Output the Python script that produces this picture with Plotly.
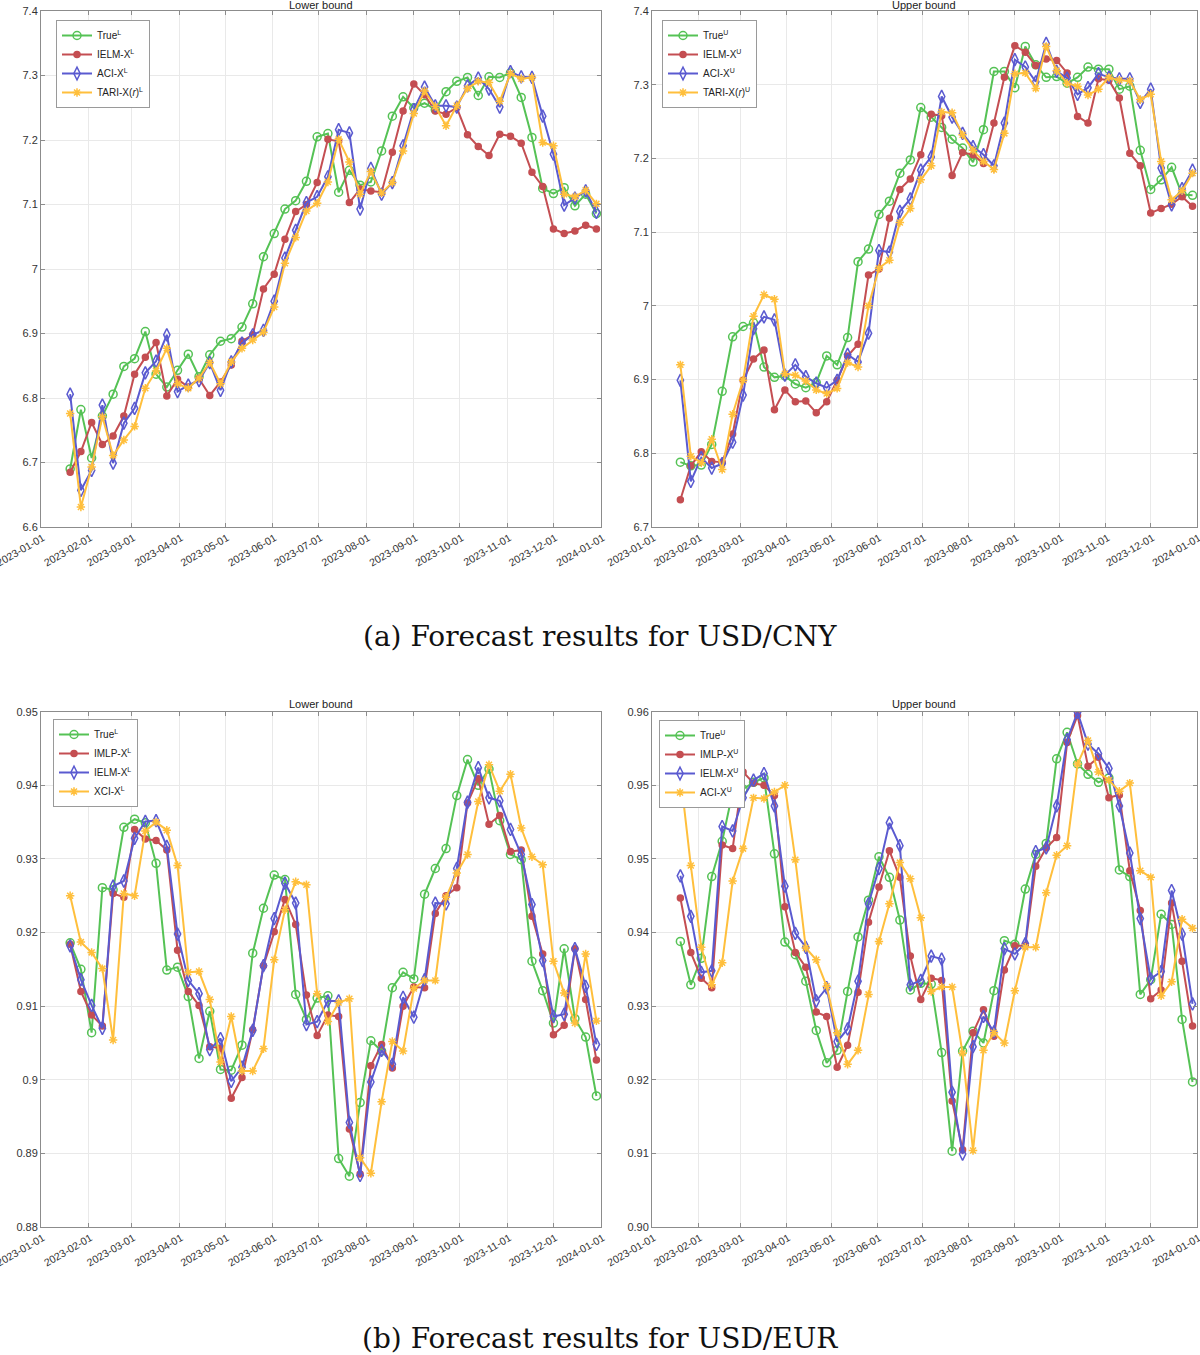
import pandas as pd
import plotly.graph_objects as go

# weekly points, 2023-01-20 .. 2023-12-29
dates = pd.date_range('2023-01-20', periods=50, freq='7D')

month_ticks = pd.date_range('2023-01-01', '2024-01-01', freq='MS')
month_labels = [d.strftime('%Y-%m-%d') for d in month_ticks]

# USD/CNY lower bound
cny_true_l = [6.690, 6.782, 6.707, 6.772, 6.806, 6.849, 6.861, 6.903, 6.837, 6.817,
              6.843, 6.868, 6.833, 6.867, 6.888, 6.892, 6.910, 6.946, 7.019, 7.055,
              7.093, 7.106, 7.136, 7.205, 7.210, 7.119, 7.153, 7.130, 7.135, 7.183,
              7.237, 7.267, 7.250, 7.257, 7.247, 7.275, 7.291, 7.297, 7.269, 7.298,
              7.297, 7.304, 7.266, 7.204, 7.125, 7.117, 7.126, 7.098, 7.116, 7.086]
cny_ielm_l = [6.685, 6.717, 6.762, 6.728, 6.741, 6.772, 6.837, 6.863, 6.886, 6.803,
              6.829, 6.817, 6.830, 6.804, 6.825, 6.851, 6.888, 6.898, 6.969, 6.992,
              7.046, 7.089, 7.100, 7.134, 7.201, 7.198, 7.103, 7.124, 7.121, 7.119,
              7.181, 7.245, 7.287, 7.270, 7.245, 7.240, 7.250, 7.208, 7.190, 7.176,
              7.209, 7.206, 7.195, 7.150, 7.128, 7.062, 7.055, 7.059, 7.068, 7.062]
cny_aci_l = [6.806, 6.657, 6.688, 6.789, 6.699, 6.761, 6.784, 6.839, 6.857, 6.898,
             6.810, 6.820, 6.827, 6.855, 6.812, 6.856, 6.885, 6.898, 6.905, 6.950,
             7.017, 7.060, 7.103, 7.112, 7.143, 7.216, 7.211, 7.093, 7.156, 7.116,
             7.134, 7.191, 7.247, 7.282, 7.253, 7.253, 7.251, 7.284, 7.296, 7.279,
             7.251, 7.306, 7.298, 7.297, 7.237, 7.178, 7.099, 7.110, 7.121, 7.088]
cny_tari_l = [6.776, 6.631, 6.693, 6.771, 6.711, 6.735, 6.756, 6.815, 6.842, 6.877,
              6.822, 6.815, 6.831, 6.855, 6.822, 6.856, 6.877, 6.890, 6.902, 6.941,
              7.009, 7.049, 7.090, 7.102, 7.135, 7.201, 7.166, 7.116, 7.151, 7.118,
              7.134, 7.183, 7.241, 7.276, 7.252, 7.222, 7.253, 7.280, 7.291, 7.289,
              7.260, 7.303, 7.295, 7.297, 7.196, 7.191, 7.116, 7.112, 7.122, 7.101]

# USD/CNY upper bound
cny_true_u = [6.788, 6.783, 6.784, 6.812, 6.884, 6.958, 6.972, 6.977, 6.917, 6.903,
              6.905, 6.894, 6.889, 6.896, 6.932, 6.920, 6.957, 7.060, 7.077, 7.124,
              7.142, 7.180, 7.198, 7.269, 7.256, 7.242, 7.226, 7.214, 7.195, 7.239,
              7.318, 7.318, 7.296, 7.352, 7.327, 7.310, 7.311, 7.302, 7.310, 7.324,
              7.321, 7.321, 7.294, 7.298, 7.211, 7.158, 7.171, 7.188, 7.151, 7.150]
cny_ielm_u = [6.737, 6.783, 6.802, 6.789, 6.788, 6.826, 6.899, 6.928, 6.940, 6.859,
              6.886, 6.870, 6.871, 6.855, 6.870, 6.899, 6.932, 6.948, 7.042, 7.050,
              7.119, 7.158, 7.172, 7.205, 7.260, 7.258, 7.177, 7.208, 7.205, 7.193,
              7.248, 7.310, 7.353, 7.344, 7.326, 7.335, 7.333, 7.316, 7.257, 7.248,
              7.308, 7.306, 7.282, 7.207, 7.190, 7.126, 7.132, 7.138, 7.148, 7.135]
cny_aci_u = [6.899, 6.762, 6.794, 6.780, 6.786, 6.815, 6.879, 6.969, 6.985, 6.981,
             6.906, 6.920, 6.904, 6.895, 6.889, 6.899, 6.934, 6.924, 6.963, 7.075,
             7.073, 7.128, 7.145, 7.184, 7.202, 7.284, 7.256, 7.234, 7.216, 7.205,
             7.190, 7.248, 7.334, 7.324, 7.304, 7.356, 7.318, 7.309, 7.287, 7.296,
             7.315, 7.310, 7.308, 7.308, 7.276, 7.294, 7.187, 7.137, 7.159, 7.184]
cny_tari_u = [6.920, 6.796, 6.787, 6.819, 6.778, 6.853, 6.899, 6.986, 7.015, 7.009,
              6.908, 6.906, 6.898, 6.886, 6.881, 6.888, 6.923, 6.917, 7.000, 7.051,
              7.062, 7.113, 7.132, 7.171, 7.190, 7.263, 7.262, 7.232, 7.211, 7.196,
              7.185, 7.234, 7.315, 7.316, 7.295, 7.352, 7.319, 7.302, 7.298, 7.286,
              7.294, 7.310, 7.306, 7.305, 7.280, 7.287, 7.196, 7.144, 7.156, 7.180]

# USD/EUR lower bound
eur_true_l = [0.9186, 0.9150, 0.9064, 0.9261, 0.9258, 0.9343, 0.9354, 0.9349, 0.9294, 0.9149,
              0.9153, 0.9113, 0.9029, 0.9093, 0.9014, 0.9013, 0.9047, 0.9172, 0.9233, 0.9278,
              0.9272, 0.9116, 0.9082, 0.9111, 0.9114, 0.8893, 0.8869, 0.8969, 0.9053, 0.9039,
              0.9125, 0.9146, 0.9137, 0.9252, 0.9287, 0.9314, 0.9386, 0.9435, 0.9400, 0.9422,
              0.9352, 0.9306, 0.9299, 0.9161, 0.9121, 0.9077, 0.9178, 0.9083, 0.9058, 0.8978]
eur_imlp_l = [0.9184, 0.9120, 0.9088, 0.9073, 0.9253, 0.9248, 0.9340, 0.9327, 0.9325, 0.9312,
              0.9176, 0.9120, 0.9101, 0.9045, 0.9043, 0.8975, 0.9003, 0.9068, 0.9155, 0.9201,
              0.9245, 0.9211, 0.9115, 0.9060, 0.9088, 0.9086, 0.8933, 0.8872, 0.9019, 0.9048,
              0.9016, 0.9100, 0.9126, 0.9125, 0.9226, 0.9250, 0.9261, 0.9376, 0.9409, 0.9347,
              0.9359, 0.9310, 0.9312, 0.9222, 0.9171, 0.9061, 0.9074, 0.9178, 0.9109, 0.9027]
eur_ielm_l = [0.9182, 0.9136, 0.9101, 0.9070, 0.9263, 0.9270, 0.9328, 0.9351, 0.9352, 0.9317,
              0.9198, 0.9135, 0.9117, 0.9041, 0.9056, 0.8998, 0.9017, 0.9067, 0.9155, 0.9219,
              0.9267, 0.9240, 0.9075, 0.9079, 0.9107, 0.9107, 0.8942, 0.8870, 0.8997, 0.9040,
              0.9021, 0.9112, 0.9085, 0.9136, 0.9240, 0.9239, 0.9287, 0.9377, 0.9424, 0.9383,
              0.9379, 0.9340, 0.9306, 0.9238, 0.9162, 0.9086, 0.9089, 0.9178, 0.9127, 0.9048]
eur_xci_l = [0.9250, 0.9187, 0.9173, 0.9151, 0.9054, 0.9253, 0.9250, 0.9338, 0.9350, 0.9339,
             0.9291, 0.9146, 0.9147, 0.9109, 0.9024, 0.9086, 0.9012, 0.9012, 0.9042, 0.9163,
             0.9231, 0.9269, 0.9265, 0.9117, 0.9079, 0.9105, 0.9110, 0.8894, 0.8873, 0.8970,
             0.9052, 0.9039, 0.9124, 0.9135, 0.9135, 0.9248, 0.9281, 0.9306, 0.9378, 0.9428,
             0.9392, 0.9415, 0.9342, 0.9303, 0.9292, 0.9161, 0.9118, 0.9077, 0.9171, 0.9080]

# USD/EUR upper bound
eur_true_u = [0.9388, 0.9329, 0.9365, 0.9476, 0.9524, 0.9591, 0.9595, 0.9604, 0.9610, 0.9507,
              0.9387, 0.9370, 0.9334, 0.9267, 0.9223, 0.9240, 0.9320, 0.9394, 0.9444, 0.9503,
              0.9475, 0.9417, 0.9322, 0.9331, 0.9330, 0.9237, 0.9103, 0.9239, 0.9266, 0.9250,
              0.9321, 0.9389, 0.9384, 0.9459, 0.9506, 0.9521, 0.9636, 0.9672, 0.9629, 0.9615,
              0.9604, 0.9610, 0.9485, 0.9476, 0.9316, 0.9336, 0.9425, 0.9411, 0.9282, 0.9197]
eur_imlp_u = [0.9447, 0.9373, 0.9338, 0.9325, 0.9519, 0.9514, 0.9618, 0.9603, 0.9600, 0.9586,
              0.9435, 0.9373, 0.9353, 0.9292, 0.9286, 0.9217, 0.9247, 0.9319, 0.9414, 0.9462,
              0.9511, 0.9475, 0.9368, 0.9309, 0.9338, 0.9335, 0.9171, 0.9105, 0.9264, 0.9295,
              0.9259, 0.9349, 0.9382, 0.9382, 0.9490, 0.9515, 0.9529, 0.9658, 0.9695, 0.9626,
              0.9638, 0.9583, 0.9587, 0.9484, 0.9430, 0.9310, 0.9322, 0.9440, 0.9361, 0.9273]
eur_ielm_u = [0.9477, 0.9422, 0.9346, 0.9348, 0.9544, 0.9538, 0.9583, 0.9607, 0.9616, 0.9572,
              0.9463, 0.9399, 0.9380, 0.9307, 0.9325, 0.9252, 0.9269, 0.9334, 0.9439, 0.9487,
              0.9549, 0.9518, 0.9329, 0.9335, 0.9368, 0.9364, 0.9183, 0.9099, 0.9245, 0.9286,
              0.9265, 0.9378, 0.9371, 0.9385, 0.9510, 0.9515, 0.9572, 0.9662, 0.9699, 0.9656,
              0.9643, 0.9623, 0.9572, 0.9508, 0.9419, 0.9337, 0.9347, 0.9457, 0.9398, 0.9303]
eur_aci_u = [0.9615, 0.9491, 0.9380, 0.9329, 0.9359, 0.9470, 0.9514, 0.9583, 0.9582, 0.9591,
             0.9600, 0.9499, 0.9379, 0.9363, 0.9327, 0.9264, 0.9221, 0.9240, 0.9316, 0.9388,
             0.9439, 0.9495, 0.9473, 0.9420, 0.9320, 0.9326, 0.9326, 0.9236, 0.9104, 0.9240,
             0.9264, 0.9250, 0.9321, 0.9380, 0.9380, 0.9454, 0.9505, 0.9518, 0.9629, 0.9661,
             0.9618, 0.9607, 0.9592, 0.9603, 0.9484, 0.9475, 0.9314, 0.9333, 0.9418, 0.9406]

# y tick labels (as printed on the original axes)
cny_l_ticks = [6.6, 6.7, 6.8, 6.9, 7.0, 7.1, 7.2, 7.3, 7.4]
cny_l_labels = ['6.6', '6.7', '6.8', '6.9', '7', '7.1', '7.2', '7.3', '7.4']
cny_u_ticks = [6.7, 6.8, 6.9, 7.0, 7.1, 7.2, 7.3, 7.4]
cny_u_labels = ['6.7', '6.8', '6.9', '7', '7.1', '7.2', '7.3', '7.4']
eur_l_ticks = [0.88, 0.89, 0.90, 0.91, 0.92, 0.93, 0.94, 0.95]
eur_l_labels = ['0.88', '0.89', '0.9', '0.91', '0.92', '0.93', '0.94', '0.95']
eur_u_ticks = [0.90, 0.91, 0.92, 0.93, 0.94, 0.95, 0.96, 0.97]
eur_u_labels = ['0.90', '0.91', '0.92', '0.93', '0.94', '0.95', '0.95', '0.96']

green = '#55c255'
red = '#c44e52'
blue = '#5a5ad0'
yellow = '#ffbf3c'

styles = [
    dict(color=green, symbol='circle-open', size=8),
    dict(color=red, symbol='circle', size=6),
    dict(color=blue, symbol='diamond-tall-open', size=9),
    dict(color=yellow, symbol='asterisk-open', size=7),
]

panels = [
    # (axis suffix, legend id, series, names)
    ('', 'legend', [cny_true_l, cny_ielm_l, cny_aci_l, cny_tari_l],
     ['True<sup>L</sup>', 'IELM-X<sup>L</sup>', 'ACI-X<sup>L</sup>', 'TARI-X(<i>r</i>)<sup>L</sup>']),
    ('2', 'legend2', [cny_true_u, cny_ielm_u, cny_aci_u, cny_tari_u],
     ['True<sup>U</sup>', 'IELM-X<sup>U</sup>', 'ACI-X<sup>U</sup>', 'TARI-X(<i>r</i>)<sup>U</sup>']),
    ('3', 'legend3', [eur_true_l, eur_imlp_l, eur_ielm_l, eur_xci_l],
     ['True<sup>L</sup>', 'IMLP-X<sup>L</sup>', 'IELM-X<sup>L</sup>', 'XCI-X<sup>L</sup>']),
    ('4', 'legend4', [eur_true_u, eur_imlp_u, eur_ielm_u, eur_aci_u],
     ['True<sup>U</sup>', 'IMLP-X<sup>U</sup>', 'IELM-X<sup>U</sup>', 'ACI-X<sup>U</sup>']),
]

fig = go.Figure()

for suffix, leg, series, names in panels:
    for vals, name, st in zip(series, names, styles):
        fig.add_trace(go.Scatter(
            x=dates, y=vals, name=name, mode='lines+markers',
            xaxis='x' + suffix, yaxis='y' + suffix, legend=leg,
            line=dict(color=st['color'], width=2),
            marker=dict(symbol=st['symbol'], size=st['size'], color=st['color'],
                        line=dict(color=st['color'], width=1.5)),
        ))

H = 1355.0
left_dom = [41 / 1200, 601 / 1200]
right_dom = [652 / 1200, 1197 / 1200]
top_dom = [1 - 527 / H, 1 - 11 / H]
bot_dom = [1 - 1227 / H, 1 - 711.7 / H]

common = dict(showline=True, linecolor='#8c8c8c', linewidth=1, mirror='ticks',
              ticks='inside', ticklen=4, tickcolor='#8c8c8c', automargin=False,
              showgrid=True, gridcolor='#e9e9e9', gridwidth=1, zeroline=False,
              ticklabeloverflow='allow',
              tickfont=dict(size=11, color='#333333'))

def xaxis(dom, anchor):
    return dict(common, domain=dom, anchor=anchor, type='date',
                range=['2023-01-01', '2024-01-01'],
                tickmode='array', tickvals=month_ticks, ticktext=month_labels,
                tickangle=-30, ticklabelshift=2,
                tickfont=dict(size=10.5, color='#333333'))

def yaxis(dom, anchor, rng, tv, tt):
    return dict(common, domain=dom, anchor=anchor, range=rng,
                tickmode='array', tickvals=tv, ticktext=tt)

def legend_at(px, py):
    return dict(x=px / 1200, y=1 - py / H, xanchor='left', yanchor='top',
                bgcolor='white', bordercolor='#9a9a9a', borderwidth=1,
                font=dict(size=10, color='#222222'), itemwidth=30,
                tracegroupgap=0)

fig.update_layout(
    width=1200, height=1355,
    margin=dict(l=0, r=0, t=0, b=0, autoexpand=False),
    paper_bgcolor='white', plot_bgcolor='white',
    font=dict(family='Liberation Sans, Arial, sans-serif', color='#262626'),
    showlegend=True,
    xaxis=xaxis(left_dom, 'y'),
    yaxis=yaxis(top_dom, 'x', [6.6, 7.4], cny_l_ticks, cny_l_labels),
    xaxis2=xaxis(right_dom, 'y2'),
    yaxis2=yaxis(top_dom, 'x2', [6.7, 7.4], cny_u_ticks, cny_u_labels),
    xaxis3=xaxis(left_dom, 'y3'),
    yaxis3=yaxis(bot_dom, 'x3', [0.88, 0.95], eur_l_ticks, eur_l_labels),
    xaxis4=xaxis(right_dom, 'y4'),
    yaxis4=yaxis(bot_dom, 'x4', [0.90, 0.97], eur_u_ticks, eur_u_labels),
    legend=legend_at(56, 20),
    legend2=legend_at(662, 20),
    legend3=legend_at(53, 719),
    legend4=legend_at(659, 720),
)

# panel titles
for cx, cy, txt in [(321, 5, 'Lower bound'), (924, 5, 'Upper bound'),
                    (321, 704, 'Lower bound'), (924, 704, 'Upper bound')]:
    fig.add_annotation(x=cx / 1200, y=1 - cy / H, xref='paper', yref='paper',
                       text=txt, showarrow=False, xanchor='center', yanchor='middle',
                       font=dict(size=11, color='#222222'))

# captions
for cy, txt in [(636, '(a) Forecast results for USD/CNY'),
                (1338, '(b) Forecast results for USD/EUR')]:
    fig.add_annotation(x=0.5, y=1 - cy / H, xref='paper', yref='paper',
                       text=txt, showarrow=False, xanchor='center', yanchor='middle',
                       font=dict(size=28, family='DejaVu Serif, Liberation Serif, serif',
                                 color='#111111'))

fig.write_html('out.html', config={'displayModeBar': False},
               post_script="document.body.style.margin='0';")
